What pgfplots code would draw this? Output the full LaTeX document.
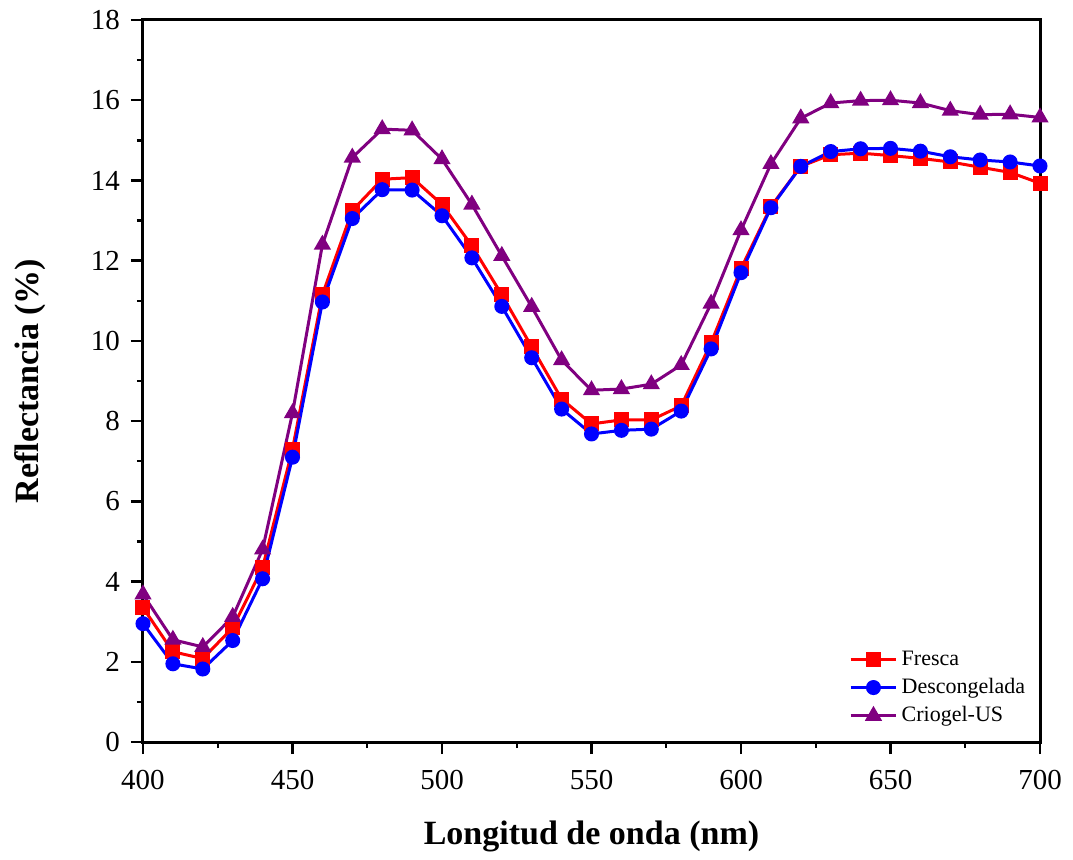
\documentclass[border=0pt]{standalone}
\usepackage{pgfplots}
\pgfplotsset{compat=1.18}
\usepackage{fontspec}
\setmainfont{Liberation Serif}
\definecolor{cfresca}{RGB}{255,0,0}
\definecolor{cdesc}{RGB}{0,0,255}
\definecolor{ccrio}{RGB}{128,0,128}

\pgfplotstableread{
x fresca desc crio
400 3.35 2.95 3.68
410 2.25 1.95 2.55
420 2.08 1.82 2.37
430 2.85 2.53 3.12
440 4.35 4.07 4.80
450 7.30 7.10 8.20
460 11.15 10.97 12.40
470 13.25 13.05 14.57
480 14.03 13.77 15.28
490 14.07 13.76 15.25
500 13.40 13.12 14.53
510 12.37 12.07 13.40
520 11.15 10.86 12.12
530 9.85 9.58 10.85
540 8.55 8.30 9.52
550 7.93 7.68 8.77
560 8.03 7.77 8.80
570 8.03 7.80 8.92
580 8.38 8.25 9.40
590 9.95 9.80 10.93
600 11.80 11.70 12.76
610 13.35 13.32 14.41
620 14.35 14.35 15.55
630 14.64 14.72 15.93
640 14.68 14.79 15.99
650 14.62 14.80 16.00
660 14.55 14.73 15.93
670 14.46 14.59 15.74
680 14.33 14.51 15.64
690 14.20 14.46 15.65
700 13.93 14.36 15.57
}\datatable

\begin{document}
\begin{tikzpicture}
\begin{axis}[
  name=ax,
  scale only axis,
  width=448.5pt, height=361pt,
  xmin=400, xmax=700, ymin=0, ymax=18,
  xtick={400,450,...,700},
  ytick={0,2,...,18},
  minor x tick num=1,
  minor y tick num=1,
  tick align=outside,
  xtick pos=bottom, ytick pos=left,
  major tick length=6pt, minor tick length=3pt,
  every tick/.style={black, line width=1.2pt},
  axis line style={line width=1.5pt},
  tick label style={font=\fontsize{14.5}{16}\selectfont},
  /pgf/number format/assume math mode=true,
  xticklabel style={yshift=-4.5pt},
  yticklabel style={xshift=-2pt},
  xlabel={\textbf{Longitud de onda (nm)}},
  ylabel={\textbf{Reflectancia (\%)}},
  label style={font=\fontsize{17}{19}\selectfont},
  xlabel style={yshift=-9pt},
  ylabel style={yshift=15.5pt},
  legend style={draw=none, fill=none, at={(0.995,0.012)}, anchor=south east,
    font=\fontsize{11}{12}\selectfont, row sep=1pt},
  legend cell align=left,
  legend image code/.code={\draw[mark repeat=2, mark phase=2]
    plot coordinates {(0cm,0cm) (0.4cm,0cm) (0.8cm,0cm)};},
  every axis plot/.append style={line width=1.5pt, mark size=3pt},
]
\addplot[cfresca, mark=square*] table[x=x, y=fresca] {\datatable};
\addplot[cdesc, mark=*] table[x=x, y=desc] {\datatable};
\addplot[ccrio, mark=triangle*, mark size=3.5pt] table[x=x, y=crio] {\datatable};
\legend{Fresca, Descongelada, Criogel-US}
\end{axis}
% margins of the reference page
\path (ax.south west) ++(-71.5pt,-57.5pt);
\path (ax.north east) ++(16.5pt,10pt);
\end{tikzpicture}
\end{document}
